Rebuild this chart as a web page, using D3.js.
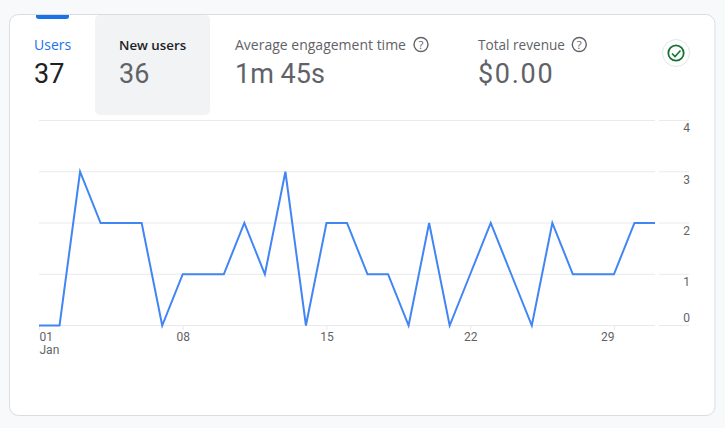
<!DOCTYPE html>
<html><head><meta charset="utf-8">
<script src="https://cdn.jsdelivr.net/npm/d3@7"></script>
<style>html,body{margin:0;padding:0;background:#f8f9fa;overflow:hidden}svg{display:block}text{font-family:"Open Sans",Roboto,sans-serif}</style>
</head><body><svg id="c" width="725" height="428"></svg>
<script>
const days = d3.range(1, 32);
const values = [0,0,3,2,2,2,0,1,1,1,2,1,3,0,2,2,1,1,0,2,0,1,2,1,0,2,1,1,1,2,2];
const yTicks = [0,1,2,3,4];
const xTicks = [1,8,15,22,29];
const xTickLabels = ["01","08","15","22","29"];
const monthLabel = "Jan";
const metricNames = ["Users","New users","Average engagement time","Total revenue"];
const metricValues = ["37","36","1m 45s","$0.00"];

const svg = d3.select("#c");
const x = d3.scaleLinear().domain([1,31]).range([39,655]);
const y = d3.scaleLinear().domain([0,4]).range([325.5,120.5]);

svg.append("rect").attr("x",9.5).attr("y",14.5).attr("width",705.5).attr("height",401).attr("rx",9)
  .attr("fill","#fff").attr("stroke","#dadce0");
svg.append("rect").attr("x",95).attr("y",15).attr("width",115).attr("height",100).attr("rx",5).attr("fill","#f1f3f4");
svg.append("path").attr("d","M36 15H69V16.5Q69 19 66 19H39Q36 19 36 16.5Z").attr("fill","#1a73e8");

const mx=[34,119,235,478], lc=["#1a73e8","#202124","#5f6368","#5f6368"], vc=["#202124","#5f6368","#5f6368","#5f6368"];
const ls=[14,13.3,14,13.6], vs=[0,0,0,1.7];
metricNames.forEach((n,i)=>{
  svg.append("text").attr("x",mx[i]).attr("y",50).attr("font-size",ls[i]).attr("font-weight",i==1?600:400).attr("fill",lc[i]).text(n);
  svg.append("text").attr("x",mx[i]).attr("y",83).attr("font-size",27).style("font-family","Roboto").style("letter-spacing",vs[i]+"px").attr("fill",vc[i]).text(metricValues[i]);
});
[421,579.3].forEach(cx=>{
  svg.append("circle").attr("cx",cx).attr("cy",44.5).attr("r",7).attr("fill","none").attr("stroke","#5f6368").attr("stroke-width",1.4);
  svg.append("text").attr("x",cx).attr("y",48.7).attr("text-anchor","middle").attr("font-size",11.5).attr("font-weight",500).attr("fill","#5f6368").text("?");
});
svg.append("circle").attr("cx",676).attr("cy",53).attr("r",13.5).attr("fill","#fff").attr("stroke","#e3e5e8");
svg.append("circle").attr("cx",676).attr("cy",53).attr("r",7.7).attr("fill","none").attr("stroke","#137333").attr("stroke-width",1.8);
svg.append("path").attr("d","M672 53.5L675 56.5L680.5 50.5").attr("fill","none").attr("stroke","#137333").attr("stroke-width",1.6);

const grid = svg.append("g");
yTicks.forEach(t=>{
  const yy=y(t);
  grid.append("line").attr("x1",39).attr("x2",655).attr("y1",yy).attr("y2",yy).attr("stroke","#e8eaed");
  grid.append("line").attr("x1",659).attr("x2",689).attr("y1",yy).attr("y2",yy).attr("stroke","#e8eaed");
  svg.append("text").attr("x",690).attr("y",yy+(t==0?-4:11.8)).attr("text-anchor","end")
    .attr("font-size",12).style("font-family","Roboto").attr("fill","#5f6368").text(t);
});
xTicks.forEach((t,i)=>{
  svg.append("line").attr("x1",x(t)+.5).attr("x2",x(t)+.5).attr("y1",325.5).attr("y2",330).attr("stroke","#e8eaed");
  const lab=svg.append("text").attr("y",341).attr("font-size",12).style("font-family","Roboto").attr("fill","#5f6368").text(xTickLabels[i]);
  if(i==0) lab.attr("x",x(t)+.5);
  else if(i==xTicks.length-1) lab.attr("x",x(t)+.5).attr("text-anchor","end");
  else lab.attr("x",x(t)+.5).attr("text-anchor","middle");
});
svg.append("text").attr("x",39.5).attr("y",353.5).attr("font-size",12).style("font-family","Roboto").attr("fill","#5f6368").text(monthLabel);

svg.append("path").datum(values)
  .attr("d",d3.line().x((d,i)=>x(days[i])).y(d=>y(d)))
  .attr("fill","none").attr("stroke","#4285f4").attr("stroke-width",2).attr("stroke-linejoin","miter");
</script></body></html>
